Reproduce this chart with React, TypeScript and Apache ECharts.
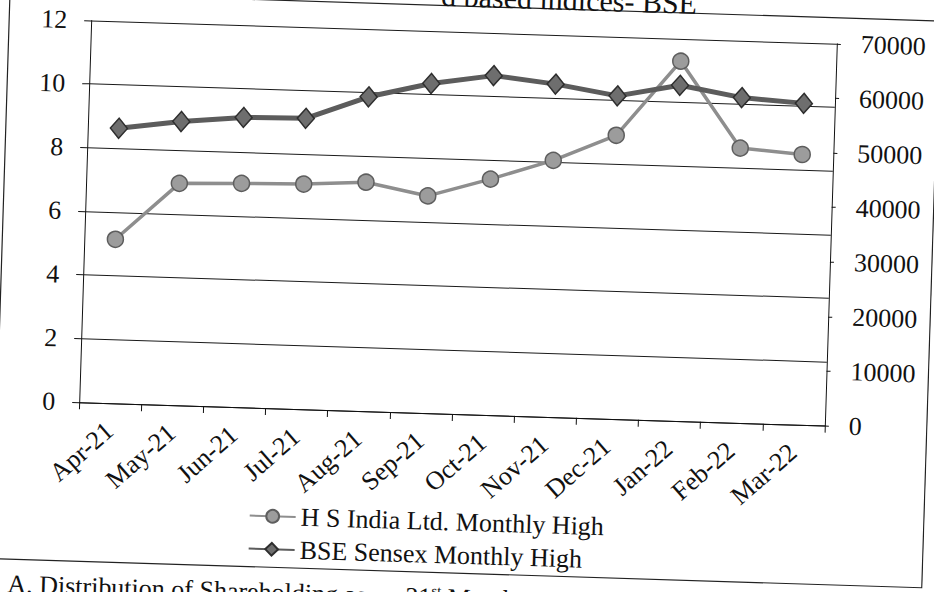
import React, { useEffect, useRef } from 'react';
import * as echarts from 'echarts';

const categories = ['Apr-21', 'May-21', 'Jun-21', 'Jul-21', 'Aug-21', 'Sep-21', 'Oct-21', 'Nov-21', 'Dec-21', 'Jan-22', 'Feb-22', 'Mar-22'];
const hsIndiaHigh = [5.15, 6.97, 7.03, 7.07, 7.19, 6.82, 7.41, 8.06, 8.91, 11.3, 8.63, 8.49];
const sensexHigh = [50400, 52000, 53100, 53300, 57600, 60400, 62200, 61000, 59200, 61500, 59600, 58900];
const leftAxis = { min: 0, max: 12, interval: 2 };
const rightAxis = { min: 0, max: 70000, interval: 10000 };
const seriesNames = ['H S India Ltd. Monthly High', 'BSE Sensex Monthly High'];
const titleFragment = 'd based indices- BSE';
const footerText = 'A. Distribution of Shareholding as on 31{sup|st} March, 2022';

const OY = 40;
const ROT = 1.8;
const FONT = "'Liberation Serif', 'Times New Roman', serif";
const INK = '#111';

export default function App() {
  const ref = useRef<HTMLDivElement>(null);
  useEffect(() => {
    const chart = echarts.init(ref.current!, null, { renderer: 'svg' });
    chart.setOption({
      animation: false,
      backgroundColor: 'transparent',
      grid: { left: 85, top: 32 + OY, width: 746, height: 382 },
      legend: {
        data: seriesNames,
        orient: 'vertical',
        left: 258,
        top: 508 + OY,
        padding: 0,
        itemWidth: 46,
        itemHeight: 16,
        itemGap: 5,
        textStyle: { fontSize: 26, fontFamily: FONT, color: INK, lineHeight: 28 },
      },
      xAxis: {
        type: 'category',
        data: categories,
        boundaryGap: true,
        axisLine: { lineStyle: { color: INK, width: 1 } },
        axisTick: { show: true, length: 7, lineStyle: { color: INK } },
        axisLabel: { rotate: 43, margin: 24, fontSize: 26, fontFamily: FONT, color: INK, interval: 0 },
      },
      yAxis: [
        {
          type: 'value',
          position: 'left',
          ...leftAxis,
          axisLine: { show: true, lineStyle: { color: INK, width: 1 } },
          axisTick: { show: true, length: 7, lineStyle: { color: INK } },
          splitLine: { show: true, lineStyle: { color: '#1a1a1a', width: 1 } },
          axisLabel: { margin: 24, fontSize: 26, fontFamily: FONT, color: INK },
        },
        {
          type: 'value',
          position: 'right',
          ...rightAxis,
          axisLine: { show: true, lineStyle: { color: INK, width: 1 } },
          axisTick: { show: true, length: 4, lineStyle: { color: INK } },
          splitLine: { show: false },
          axisLabel: {
            margin: 24,
            fontSize: 26,
            fontFamily: FONT,
            color: INK,
            formatter: (v: number) => String(v),
          },
        },
      ],
      series: [
        {
          name: seriesNames[0],
          type: 'line',
          yAxisIndex: 0,
          data: hsIndiaHigh,
          symbol: 'circle',
          symbolSize: 16,
          lineStyle: { color: '#8e8e8e', width: 3.5 },
          itemStyle: { color: '#9c9c9c', borderColor: '#5e5e5e', borderWidth: 1.5 },
        },
        {
          name: seriesNames[1],
          type: 'line',
          yAxisIndex: 1,
          data: sensexHigh,
          symbol: 'diamond',
          symbolSize: [17, 20],
          lineStyle: { color: '#5c5c5c', width: 5 },
          itemStyle: { color: '#6e6e6e', borderColor: '#2e2e2e', borderWidth: 1.5 },
        },
      ],
      graphic: [
        {
          type: 'rect',
          silent: true,
          shape: { x: 3, y: 6 + OY, width: 930, height: 567 },
          style: { fill: 'none', stroke: '#222', lineWidth: 1.2 },
        },
        {
          type: 'text',
          silent: true,
          x: 690,
          y: 11 + OY,
          style: {
            text: titleFragment,
            font: `30px ${FONT}`,
            fill: INK,
            align: 'right',
            textAlign: 'right',
            verticalAlign: 'bottom',
            textVerticalAlign: 'bottom',
          },
        },
        {
          type: 'text',
          silent: true,
          x: 19,
          y: 584 + OY,
          style: {
            text: footerText,
            font: `26px ${FONT}`,
            fontSize: 26,
            fontFamily: FONT,
            fill: INK,
            align: 'left',
            verticalAlign: 'top',
            lineHeight: 28,
            rich: {
              sup: { fontSize: 15, fontFamily: FONT, fill: INK, verticalAlign: 'top', lineHeight: 28 },
            },
          },
        },
      ],
    });
    return () => chart.dispose();
  }, []);
  return (
    <div style={{ position: 'fixed', left: 0, top: 0, width: 934, height: 592, overflow: 'hidden', background: '#fff' }}>
      <div
        ref={ref}
        style={{
          position: 'absolute',
          left: 0,
          top: -OY,
          width: 934,
          height: 592 + OY + 40,
          transform: `rotate(${ROT}deg)`,
          transformOrigin: `458px ${223 + OY}px`,
        }}
      />
    </div>
  );
}
